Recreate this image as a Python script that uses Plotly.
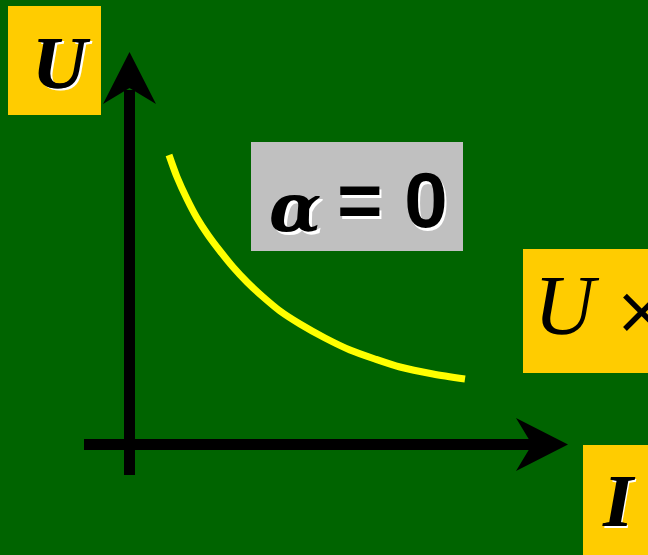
import plotly.graph_objects as go

# Curve data (I, U) relative to axis origin
I_vals = [39, 47, 57, 67, 78, 90, 103, 117, 132, 150, 170, 195, 220, 245, 270, 303, 335]
U_vals = [289, 267, 245, 226, 209, 193, 177, 162, 148, 133, 120, 106, 94, 85, 77, 70, 65]

axis_label_U = "U"
axis_label_I = "I"
box_label = "= 0"
alpha_label = "α"
product_label = "U"
times_label = "×"

OX, OY = 130, 444  # pixel origin
def px(x): return x - OX
def py(y): return OY - y

BG = "#006400"
GOLD = "#FFCC00"

fig = go.Figure()
fig.add_trace(go.Scatter(x=I_vals, y=U_vals, mode="lines",
                         line=dict(color="#FFFF00", width=7, shape="spline", smoothing=0.8),
                         hoverinfo="skip", showlegend=False))

shapes = []
def rect(x0, y0, x1, y1, color):
    shapes.append(dict(type="rect", xref="x", yref="y", x0=px(x0), x1=px(x1), y0=py(y0), y1=py(y1),
                       fillcolor=color, line=dict(width=0), layer="below"))
rect(8, 6, 101, 115, GOLD)
rect(251, 142, 463, 251, "#C0C0C0")
rect(523, 249, 660, 373, GOLD)
rect(583, 445, 660, 560, GOLD)
# axes shafts
rect(124, 90, 135, 475, "black")
rect(84, 439, 534, 450, "black")
def poly(pts):
    path = "M " + " L ".join(f"{px(a)},{py(b)}" for a, b in pts) + " Z"
    shapes.append(dict(type="path", xref="x", yref="y", path=path, fillcolor="black",
                       line=dict(width=0), layer="below"))
poly([(129.5, 52), (156, 104), (129.5, 88), (103, 104)])
poly([(568, 444.5), (516, 471), (532, 444.5), (516, 418)])

ann = []
def text(t, x, y, family, size, shadow=False, weight="normal", style="normal", thick=False, **kw):
    f = dict(family=family, size=size, weight=weight, style=style)
    if shadow:
        ann.append(dict(text=t, x=px(x), y=py(y), xref="x", yref="y", showarrow=False,
                        font=dict(f, color="white"), xshift=2.5, yshift=-2.5, **kw))
    shifts = [0, 1.2] if thick else [0]
    for s in shifts:
        ann.append(dict(text=t, x=px(x), y=py(y), xref="x", yref="y", showarrow=False,
                        font=dict(f, color="black"), xshift=s, **kw))

text(axis_label_U, 61, 62, "Liberation Serif", 75, shadow=True, weight="bold", style="italic", thick=True)
text(axis_label_I, 618, 500, "Liberation Serif", 75, shadow=True, weight="bold", style="italic", thick=True)
text(alpha_label, 295, 207, "DejaVu Serif", 68, shadow=True, weight="bold", style="italic")
text(box_label, 392, 200, "Liberation Sans", 78, shadow=True, weight="bold")
text(product_label, 532, 305, "Liberation Serif", 84, style="italic", xanchor="left")
text(times_label, 612, 310, "DejaVu Sans", 66, xanchor="left")

fig.update_layout(
    width=648, height=555, margin=dict(l=0, r=0, t=0, b=0),
    paper_bgcolor=BG, plot_bgcolor=BG,
    xaxis=dict(range=[px(0), px(648)], visible=False, fixedrange=True),
    yaxis=dict(range=[py(555), py(0)], visible=False, fixedrange=True),
    shapes=shapes, annotations=ann, showlegend=False,
)
fig.write_html("out.html", config={"displayModeBar": False},
               post_script="document.body.style.margin='0px';document.body.style.overflow='hidden';")
